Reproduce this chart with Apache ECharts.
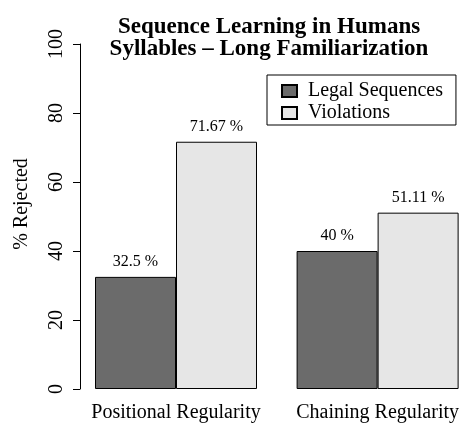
<!DOCTYPE html>
<html>
<head>
<meta charset="utf-8">
<script src="https://cdn.jsdelivr.net/npm/echarts@6/dist/echarts.min.js"></script>
<style>
  html, body { margin: 0; padding: 0; background: #fff; }
  #chart { width: 462px; height: 423px; }
</style>
</head>
<body>
<div id="chart"></div>
<script>
const categories = ['Positional Regularity', 'Chaining Regularity'];
const legalValues = [32.5, 40];
const violationValues = [71.67, 51.11];
const seriesNames = ['Legal Sequences', 'Violations'];
const yTicks = [0, 20, 40, 60, 80, 100];

const serif = "'Liberation Serif', 'DejaVu Serif', serif";

const chart = echarts.init(document.getElementById('chart'));

const barLabel = {
  show: true,
  position: 'top',
  distance: 7,
  fontFamily: serif,
  fontSize: 16,
  color: '#000',
  formatter: '{c} %',
};

// group centres sit on the grid edges (boundaryGap: false), so the
// plot can reach past the right side like the R barplot does
const option = {
  backgroundColor: '#fff',
  animation: false,
  textStyle: { fontFamily: serif },
  graphic: [
    {
      type: 'text',
      x: 269,
      y: 27,
      style: {
        text: 'Sequence Learning in Humans',
        font: 'bold 23px ' + serif,
        fill: '#000',
        textAlign: 'center',
        textVerticalAlign: 'middle',
      },
    },
    {
      type: 'text',
      x: 269,
      y: 49,
      style: {
        text: 'Syllables \u2013 Long Familiarization',
        font: 'bold 23px ' + serif,
        fill: '#000',
        textAlign: 'center',
        textVerticalAlign: 'middle',
      },
    },
    {
      type: 'text',
      x: 22,
      y: 204,
      rotation: Math.PI / 2,
      style: {
        text: '% Rejected',
        font: '20px ' + serif,
        fill: '#000',
        textAlign: 'center',
        textVerticalAlign: 'middle',
      },
    },
  ],
  legend: {
    data: seriesNames,
    orient: 'vertical',
    align: 'left',
    left: 267,
    top: 75,
    icon: 'rect',
    itemWidth: 15,
    itemHeight: 12,
    itemGap: 2,
    padding: [6, 13, 2, 14],
    borderColor: '#000',
    borderWidth: 1,
    textStyle: {
      fontFamily: serif,
      fontSize: 20,
      color: '#000',
      padding: [0, 0, 0, 6],
    },
  },
  grid: {
    left: 176,
    right: 84,
    top: 44,
    bottom: 34,
    containLabel: false,
  },
  xAxis: {
    type: 'category',
    data: categories,
    boundaryGap: false,
    axisLine: { show: false },
    axisTick: { show: false },
    axisLabel: {
      interval: 0,
      fontFamily: serif,
      fontSize: 20,
      color: '#000',
      margin: 14,
    },
  },
  yAxis: {
    type: 'value',
    min: 0,
    max: 100,
    interval: 20,
    offset: 96,
    axisLine: { show: true, lineStyle: { color: '#000', width: 1 } },
    axisTick: { show: true, length: 7, lineStyle: { color: '#000' } },
    splitLine: { show: false },
    axisLabel: {
      rotate: 90,
      fontFamily: serif,
      fontSize: 20,
      color: '#000',
      margin: 13,
      formatter: (v) => (yTicks.includes(v) ? String(v) : ''),
    },
  },
  series: [
    {
      name: seriesNames[0],
      type: 'bar',
      data: legalValues,
      barWidth: 81,
      barGap: '0%',
      clip: false,
      itemStyle: { color: '#6b6b6b', borderColor: '#000', borderWidth: 1 },
      label: barLabel,
    },
    {
      name: seriesNames[1],
      type: 'bar',
      data: violationValues,
      barWidth: 81,
      barGap: '0%',
      clip: false,
      itemStyle: { color: '#e6e6e6', borderColor: '#000', borderWidth: 1 },
      label: barLabel,
    },
  ],
};

chart.setOption(option);
</script>
</body>
</html>
